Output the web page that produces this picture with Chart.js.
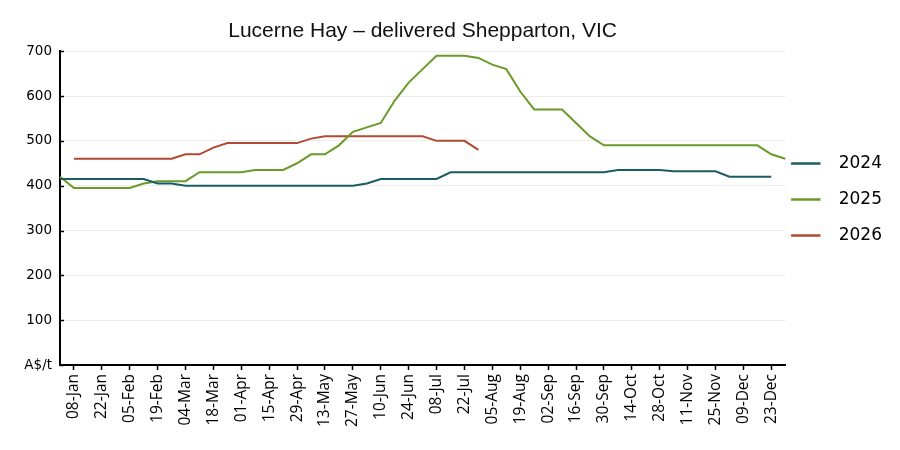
<!DOCTYPE html>
<html>
<head>
<meta charset="utf-8">
<title>Lucerne Hay – delivered Shepparton, VIC</title>
<script src="https://cdn.jsdelivr.net/npm/chart.js@4.4.1/dist/chart.umd.min.js"></script>
<style>
  html, body { margin: 0; padding: 0; background: #fff; }
  #wrap { width: 900px; height: 450px; }
</style>
</head>
<body>
<div id="wrap"><canvas id="hayChart" width="900" height="450"></canvas></div>
<script>
// weekly categories (every second one is labelled on the axis)
const weeks = [
  '01-Jan', '08-Jan', '15-Jan', '22-Jan', '29-Jan', '05-Feb', '12-Feb', '19-Feb', '26-Feb',
  '04-Mar', '11-Mar', '18-Mar', '25-Mar', '01-Apr', '08-Apr', '15-Apr', '22-Apr', '29-Apr',
  '06-May', '13-May', '20-May', '27-May', '03-Jun', '10-Jun', '17-Jun', '24-Jun', '01-Jul',
  '08-Jul', '15-Jul', '22-Jul', '29-Jul', '05-Aug', '12-Aug', '19-Aug', '26-Aug', '02-Sep',
  '09-Sep', '16-Sep', '23-Sep', '30-Sep', '07-Oct', '14-Oct', '21-Oct', '28-Oct', '04-Nov',
  '11-Nov', '18-Nov', '25-Nov', '02-Dec', '09-Dec', '16-Dec', '23-Dec', '30-Dec'
];

// A$/t
const price2024 = [
  415, 415, 415, 415, 415, 415, 415, 405, 405,
  400, 400, 400, 400, 400, 400, 400, 400, 400,
  400, 400, 400, 400, 405, 415, 415, 415, 415,
  415, 430, 430, 430, 430, 430, 430, 430, 430,
  430, 430, 430, 430, 435, 435, 435, 435, 432,
  432, 432, 432, 420, 420, 420, 420, null
];
const price2025 = [
  420, 395, 395, 395, 395, 395, 405, 410, 410,
  410, 430, 430, 430, 430, 435, 435, 435, 450,
  470, 470, 490, 520, 530, 540, 590, 630, 660,
  690, 690, 690, 685, 670, 660, 610, 570, 570,
  570, 540, 510, 490, 490, 490, 490, 490, 490,
  490, 490, 490, 490, 490, 490, 470, 460
];
const price2026 = [
  null, 460, 460, 460, 460, 460, 460, 460, 460,
  470, 470, 485, 495, 495, 495, 495, 495, 495,
  505, 510, 510, 510, 510, 510, 510, 510, 510,
  500, 500, 500, 480
];

const yTicks = [0, 100, 200, 300, 400, 500, 600, 700];
const seriesNames = ['2024', '2025', '2026'];
const seriesColors = ['#1a5c63', '#6a9a2a', '#b04a33'];

// short tick marks pointing into the plot on the y axis
const innerTicks = {
  id: 'innerTicks',
  afterDraw(chart) {
    const y = chart.scales.y;
    const ctx = chart.ctx;
    ctx.save();
    ctx.strokeStyle = '#000';
    ctx.lineWidth = 1.5;
    y.ticks.forEach(t => {
      const py = Math.round(y.getPixelForValue(t.value)) + 0.5;
      ctx.beginPath();
      ctx.moveTo(y.right, py);
      ctx.lineTo(y.right + 4, py);
      ctx.stroke();
    });
    ctx.restore();
  }
};

const ctx = document.getElementById('hayChart').getContext('2d');
new Chart(ctx, {
  type: 'line',
  data: {
    labels: weeks,
    datasets: [price2024, price2025, price2026].map((vals, i) => ({
      label: seriesNames[i],
      data: vals,
      borderColor: seriesColors[i],
      backgroundColor: seriesColors[i],
      borderWidth: 2,
      pointRadius: 0,
      tension: 0,
      fill: false
    }))
  },
  options: {
    responsive: false,
    animation: false,
    layout: { padding: { left: 0, right: 18, top: 0, bottom: 0 } },
    plugins: {
      title: {
        display: true,
        text: 'Lucerne Hay – delivered Shepparton, VIC',
        fullSize: false,
        color: '#111',
        font: { family: 'Liberation Sans', size: 21, weight: 'normal' },
        padding: { top: 19, bottom: 7 }
      },
      legend: {
        position: 'right',
        align: 'start',
        // empty title only pushes the entries down beside the plot
        title: { display: true, text: '', font: { size: 10, lineHeight: '10px' }, padding: { top: 139, bottom: 0 } },
        labels: {
          color: '#000',
          font: { family: 'DejaVu Sans', size: 17, lineHeight: '30px' },
          boxWidth: 29,
          boxHeight: 2,
          padding: 6,
          textAlign: 'right',
          generateLabels(chart) {
            return chart.data.datasets.map((ds, i) => ({
              text: [ds.label],
              fillStyle: ds.borderColor,
              strokeStyle: ds.borderColor,
              lineWidth: 0.5,
              fontColor: '#000',
              hidden: false,
              datasetIndex: i
            }));
          }
        }
      },
      tooltip: { enabled: false }
    },
    scales: {
      x: {
        offset: false,
        afterFit(s) { s.height = 85; },
        afterBuildTicks(s) { s.ticks = s.ticks.filter(t => t.value % 2 === 1); },
        grid: { drawOnChartArea: false, drawTicks: true, tickLength: 5, tickColor: '#000', tickWidth: 1.5 },
        border: { display: true, color: '#000', width: 2 },
        ticks: {
          autoSkip: false,
          minRotation: 90,
          maxRotation: 90,
          padding: 4,
          color: '#000',
          font: { family: 'Open Sans', size: 15.5 }
        }
      },
      y: {
        min: 0,
        max: 700,
        afterFit(s) { s.width = 60; },
        afterBuildTicks(s) { s.ticks = yTicks.map(v => ({ value: v })); },
        grid: { color: '#ececec', lineWidth: 1, drawTicks: false },
        border: { display: true, color: '#000', width: 2 },
        ticks: {
          padding: 8,
          color: '#000',
          font: { family: 'DejaVu Sans', size: 13.5 },
          callback: v => v === 0 ? 'A$/t' : v
        }
      }
    }
  },
  plugins: [innerTicks]
});
</script>
</body>
</html>
